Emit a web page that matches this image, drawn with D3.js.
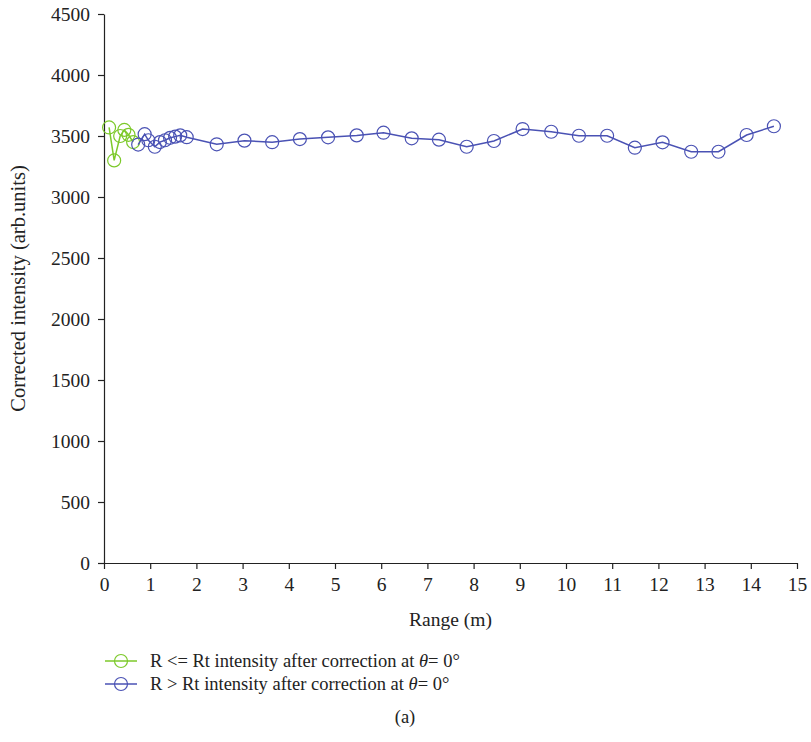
<!DOCTYPE html>
<html>
<head>
<meta charset="utf-8">
<script src="https://cdn.jsdelivr.net/npm/d3@7"></script>
<style>
  body { margin: 0; background: #fff; }
  svg text { font-family: "Liberation Serif", "DejaVu Serif", serif; fill: #222; }
</style>
</head>
<body>
<div id="vis"></div>
<script>
const WIDTH = 811;
const HEIGHT = 742;

// R <= Rt (green)
const nearRange = [0.11, 0.22, 0.35, 0.44, 0.53, 0.63];
const nearValue = [3570, 3300, 3500, 3550, 3510, 3450];

// R > Rt (blue)
const farRange = [0.74, 0.88, 0.96, 1.10, 1.21, 1.32, 1.43, 1.54, 1.65, 1.79,
	2.44, 3.04, 3.64, 4.24, 4.85, 5.47, 6.05, 6.66, 7.25, 7.85, 8.44,
	9.06, 9.68, 10.28, 10.89, 11.49, 12.09, 12.71, 13.3, 13.91, 14.5];
const farValue = [3430, 3515, 3465, 3412, 3450, 3465, 3485, 3495, 3505, 3490,
	3432, 3462, 3449, 3475, 3489, 3505, 3527, 3481, 3470, 3412, 3459,
	3557, 3535, 3502, 3502, 3404, 3448, 3371, 3371, 3508, 3580];

const xTicks = d3.range(0, 16, 1);
const yTicks = d3.range(0, 4501, 500);

const legendLabels = ["R <= Rt intensity after correction at ", "R > Rt intensity after correction at "];
const colours = ["#7cc92a", "#4a52b4"];

const margin = { left: 104, right: 14, top: 14, bottom: 179 };

const svg = d3.select("#vis").append("svg")
	.attr("width", WIDTH)
	.attr("height", HEIGHT);

const x = d3.scaleLinear().domain([0, 15]).range([margin.left, WIDTH - margin.right]);
const y = d3.scaleLinear().domain([0, 4500]).range([HEIGHT - margin.bottom, margin.top]);

// axes
const xAxis = svg.append("g")
	.attr("transform", `translate(0,${y(0)})`)
	.call(d3.axisBottom(x).tickValues(xTicks).tickFormat(d3.format("d")).tickSize(6).tickSizeOuter(0).tickPadding(8));
const yAxis = svg.append("g")
	.attr("transform", `translate(${x(0)},0)`)
	.call(d3.axisLeft(y).tickValues(yTicks).tickFormat(d3.format("d")).tickSize(6).tickSizeOuter(0).tickPadding(8));

[xAxis, yAxis].forEach(a => {
	a.selectAll("path, line").attr("stroke", "#222").attr("stroke-width", 1.2);
	a.selectAll("text").style("font-size", "19.5px").style("font-family", "'Liberation Serif', serif").attr("fill", "#222");
});

svg.append("text")
	.attr("x", (x(0) + x(15)) / 2)
	.attr("y", 626)
	.attr("text-anchor", "middle")
	.style("font-size", "19.5px")
	.text("Range (m)");

svg.append("text")
	.attr("transform", `translate(25,${(y(0) + y(4500)) / 2}) rotate(-90)`)
	.attr("text-anchor", "middle")
	.style("font-size", "20.5px")
	.text("Corrected intensity (arb.units)");

// series
const line = d3.line().x(d => x(d[0])).y(d => y(d[1]));
const series = [
	d3.zip(nearRange, nearValue),
	d3.zip(farRange, farValue)
];

series.forEach((pts, i) => {
	const g = svg.append("g");
	g.append("path")
		.datum(pts)
		.attr("d", line)
		.attr("fill", "none")
		.attr("stroke", colours[i])
		.attr("stroke-width", 1.5);
	g.selectAll("circle")
		.data(pts)
		.enter()
		.append("circle")
		.attr("cx", d => x(d[0]))
		.attr("cy", d => y(d[1]))
		.attr("r", 6.5)
		.attr("fill", "none")
		.attr("stroke", colours[i])
		.attr("stroke-width", 1.2);
});

// legend
legendLabels.forEach((lab, i) => {
	const ly = 661 + i * 23;
	const g = svg.append("g");
	g.append("line")
		.attr("x1", 105).attr("x2", 137)
		.attr("y1", ly).attr("y2", ly)
		.attr("stroke", colours[i]).attr("stroke-width", 1.5);
	g.append("circle")
		.attr("cx", 121).attr("cy", ly).attr("r", 6.5)
		.attr("fill", "none")
		.attr("stroke", colours[i]).attr("stroke-width", 1.2);
	const t = g.append("text")
		.attr("x", 150).attr("y", ly + 6)
		.style("font-size", "18.5px");
	t.append("tspan").text(lab);
	t.append("tspan").style("font-style", "italic").text("θ");
	t.append("tspan").text("= 0°");
});

svg.append("text")
	.attr("x", 405)
	.attr("y", 723)
	.attr("text-anchor", "middle")
	.style("font-size", "18.5px")
	.text("(a)");
</script>
</body>
</html>
